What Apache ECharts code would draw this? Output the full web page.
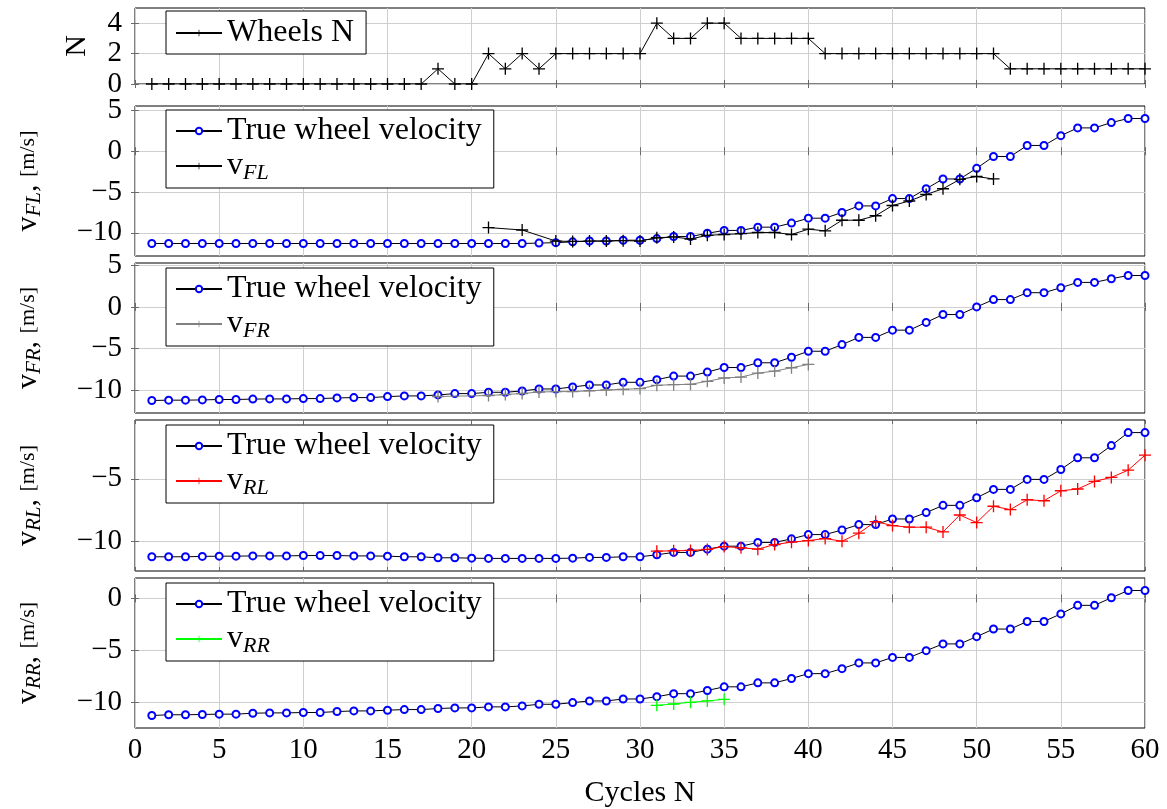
<!DOCTYPE html>
<html><head><meta charset="utf-8">
<script src="https://cdn.jsdelivr.net/npm/echarts@6/dist/echarts.min.js"></script>
<style>html,body{margin:0;padding:0;background:#fff}#c{width:1167px;height:809px}</style>
</head><body><div id="c"></div>
<script>
// ---------------- data ----------------
const cycles = [1,2,3,4,5,6,7,8,9,10,11,12,13,14,15,16,17,18,19,20,21,22,23,24,25,26,27,28,29,30,
  31,32,33,34,35,36,37,38,39,40,41,42,43,44,45,46,47,48,49,50,51,52,53,54,55,56,57,58,59,60];
const xTicks = [0,5,10,15,20,25,30,35,40,45,50,55,60];

const wheelsN = [0,0,0,0,0,0,0,0,0,0,0,0,0,0,0,0,0,1,0,0,
  2,1,2,1,2,2,2,2,2,2, 4,3,3,4,4,3,3,3,3,3,
  2,2,2,2,2,2,2,2,2,2,2, 1,1,1,1,1,1,1,1,1];

const trueFL = [-11.3,-11.3,-11.3,-11.3,-11.3,-11.3,-11.3,-11.3,-11.3,-11.3,
  -11.3,-11.3,-11.3,-11.3,-11.3,-11.3,-11.3,-11.3,-11.3,-11.3,
  -11.3,-11.3,-11.3,-11.25,-11.2,-11.1,-11.0,-11.0,-10.9,-10.9,
  -10.7,-10.45,-10.45,-10.05,-9.7,-9.7,-9.3,-9.3,-8.8,-8.2,
  -8.2,-7.5,-6.7,-6.7,-5.8,-5.8,-4.6,-3.4,-3.4,-2.1,
  -0.65,-0.65,0.7,0.7,1.9,2.85,2.85,3.5,4.0,4.0];
const vFL = [null,null,null,null,null,null,null,null,null,null,
  null,null,null,null,null,null,null,null,null,null,
  -9.35,null,-9.65,null,-11.0,-11.05,-11.0,-11.0,-10.95,-11.0,
  -10.6,-10.5,-10.75,-10.3,-10.2,-10.1,-9.95,-9.95,-10.2,-9.55,
  -9.75,-8.45,-8.45,-7.9,-6.65,-6.1,-5.3,-4.6,-3.45,-3.1,
  -3.4,null,null,null,null,null,null,null,null,null];

const trueFR = [-11.27,-11.23,-11.23,-11.2,-11.15,-11.15,-11.1,-11.08,-11.08,-11.04,
  -11.04,-10.96,-10.92,-10.92,-10.8,-10.72,-10.72,-10.6,-10.44,-10.44,
  -10.28,-10.28,-10.12,-9.88,-9.88,-9.64,-9.4,-9.4,-9.08,-9.08,
  -8.76,-8.33,-8.33,-7.85,-7.3,-7.3,-6.73,-6.73,-6.06,-5.34,
  -5.34,-4.54,-3.67,-3.67,-2.8,-2.8,-1.87,-0.92,-0.92,0.0,
  0.88,0.88,1.71,1.71,2.31,2.95,2.95,3.39,3.78,3.78];
const vFR = [null,null,null,null,null,null,null,null,null,null,
  null,null,null,null,null,null,null,-10.79,null,null,
  -10.67,-10.55,-10.43,-10.25,-10.2,-10.2,-10.1,-10.0,-9.92,-9.84,
  -9.44,-9.36,-9.32,-8.96,-8.56,-8.45,-7.97,-7.73,-7.33,-6.93,
  null,null,null,null,null,null,null,null,null,null,
  null,null,null,null,null,null,null,null,null,null];

const trueRL = [-11.25,-11.25,-11.25,-11.22,-11.2,-11.2,-11.18,-11.18,-11.18,-11.15,
  -11.15,-11.15,-11.18,-11.18,-11.2,-11.25,-11.25,-11.33,-11.33,-11.36,
  -11.38,-11.38,-11.38,-11.38,-11.38,-11.36,-11.3,-11.3,-11.25,-11.25,
  -11.09,-10.9,-10.9,-10.64,-10.4,-10.4,-10.1,-10.1,-9.81,-9.47,
  -9.47,-9.1,-8.67,-8.67,-8.22,-8.22,-7.71,-7.13,-7.13,-6.52,
  -5.85,-5.85,-5.05,-5.05,-4.26,-3.32,-3.32,-2.34,-1.3,-1.3];
const vRL = [null,null,null,null,null,null,null,null,null,null,
  null,null,null,null,null,null,null,null,null,null,
  null,null,null,null,null,null,null,null,null,null,
  -10.8,-10.77,-10.74,-10.66,-10.43,-10.53,-10.64,-10.27,-10.08,-9.95,
  -9.79,-10.0,-9.36,-8.43,-8.75,-8.88,-8.88,-9.26,-7.9,-8.51,
  -7.2,-7.47,-6.68,-6.76,-5.96,-5.82,-5.21,-4.89,-4.31,-3.11];

const trueRR = [-11.27,-11.2,-11.2,-11.17,-11.14,-11.14,-11.05,-11.02,-11.02,-10.98,
  -10.98,-10.89,-10.83,-10.83,-10.76,-10.7,-10.7,-10.6,-10.54,-10.54,
  -10.44,-10.44,-10.35,-10.19,-10.19,-10.03,-9.87,-9.87,-9.68,-9.68,
  -9.46,-9.17,-9.17,-8.86,-8.51,-8.51,-8.13,-8.13,-7.71,-7.24,
  -7.24,-6.76,-6.21,-6.21,-5.68,-5.68,-5.03,-4.38,-4.38,-3.68,
  -2.95,-2.95,-2.22,-2.22,-1.49,-0.67,-0.67,0.06,0.76,0.76];
const vRR = [null,null,null,null,null,null,null,null,null,null,
  null,null,null,null,null,null,null,null,null,null,
  null,null,null,null,null,null,null,null,null,null,
  -10.29,-10.16,-10.0,-9.87,-9.71,null,null,null,null,null,
  null,null,null,null,null,null,null,null,null,null,
  null,null,null,null,null,null,null,null,null,null];

const ticksN = [0,2,4];
const ticksFront = [-10,-5,0,5];
const ticksRL = [-10,-5];
const ticksRR = [-10,-5,0];

// ---------------- layout / style ----------------
const FONT = '"Liberation Serif", "Times New Roman", serif';
const PLUS = 'path://M0,4.45H10V5.55H0Z M4.45,0H5.55V10H4.45Z';
const GRID_LEFT = 135, GRID_W = 1010;

function extentOf(arrs, pad) {
  let lo = Infinity, hi = -Infinity;
  arrs.forEach(a => a.forEach(v => { if (v !== null) { lo = Math.min(lo, v); hi = Math.max(hi, v); } }));
  const r = hi - lo;
  return [lo - pad * r, hi + pad * r];
}

const panels = [
  { top: 8, height: 76, legendTop: 11, ticks: ticksN, lim: [0, 5], sub: null, pad: [6, 12, 5, 9],
    series: [{ name: 'Wheels N', data: wheelsN, sym: 'plus', color: '#000' }] },
  { top: 106, height: 150, legendTop: 110, ticks: ticksFront, sub: 'FL', pad: [5, 12, 4, 9],
    series: [{ name: 'True wheel velocity', data: trueFL, sym: 'circle' },
             { name: 'v_FL', data: vFL, sym: 'plus', color: '#000' }] },
  { top: 263, height: 150, legendTop: 268, ticks: ticksFront, sub: 'FR', pad: [5, 12, 4, 9],
    series: [{ name: 'True wheel velocity', data: trueFR, sym: 'circle' },
             { name: 'v_FR', data: vFR, sym: 'plus', color: '#808080' }] },
  { top: 420, height: 151, legendTop: 425, ticks: ticksRL, sub: 'RL', pad: [5, 12, 4, 9],
    series: [{ name: 'True wheel velocity', data: trueRL, sym: 'circle' },
             { name: 'v_RL', data: vRL, sym: 'plus', color: '#ff0000' }] },
  { top: 578, height: 151, legendTop: 583, ticks: ticksRR, sub: 'RR', pad: [5, 12, 4, 9],
    series: [{ name: 'True wheel velocity', data: trueRR, sym: 'circle' },
             { name: 'v_RR', data: vRR, sym: 'plus', color: '#00ff00' }] }
];

const fmtNum = v => (v < 0 ? '\u2212' + Math.abs(v) : String(v));
const gridColor = '#cfcfcf';
const tickColor = '#6a6a6a';

const grid = [], xAxis = [], yAxis = [], series = [], legend = [];

panels.forEach((p, i) => {
  const lim = p.lim || extentOf(p.series.map(s => s.data), 0.1);
  const last = i === panels.length - 1;
  grid.push({ left: GRID_LEFT, width: GRID_W, top: p.top, height: p.height,
    show: true, borderColor: '#000', borderWidth: 1, backgroundColor: 'transparent' });

  // bottom x axis
  xAxis.push({ gridIndex: i, type: 'value', min: 0, max: 60, interval: 5, position: 'bottom',
    axisLine: { show: false },
    axisTick: { show: true, inside: true, length: 4, lineStyle: { color: tickColor } },
    splitLine: { show: true, lineStyle: { color: gridColor, width: 1 } },
    axisLabel: { show: last, fontFamily: FONT, fontSize: 29, color: '#000', margin: 8,
      customValues: xTicks },
    name: last ? 'Cycles N' : '', nameLocation: 'middle', nameGap: 50,
    nameTextStyle: { fontFamily: FONT, fontSize: 30, color: '#000' } });
  // top x axis (ticks only)
  xAxis.push({ gridIndex: i, type: 'value', min: 0, max: 60, interval: 5, position: 'top',
    axisLine: { show: false },
    axisTick: { show: true, inside: true, length: 4, lineStyle: { color: tickColor } },
    splitLine: { show: false }, axisLabel: { show: false } });

  const yName = p.sub ? '{v|v}{s|' + p.sub + '}{v|, }{u|[m/s]}' : 'N';
  yAxis.push({ gridIndex: i, type: 'value', min: lim[0], max: lim[1], position: 'left',
    axisLine: { show: false },
    axisTick: { show: true, inside: true, length: 4, lineStyle: { color: tickColor }, customValues: p.ticks },
    splitLine: { show: true, lineStyle: { color: gridColor, width: 1 } },
    axisLabel: { fontFamily: FONT, fontSize: 29, color: '#000', margin: 13, customValues: p.ticks,
      formatter: fmtNum },
    name: yName, nameLocation: 'middle', nameRotate: 90, nameGap: p.sub ? 90 : 43,
    nameTextStyle: { fontFamily: FONT, fontSize: 30, color: '#000',
      rich: { v: { fontFamily: FONT, fontSize: 30, color: '#000' },
              s: { fontFamily: FONT, fontSize: 21, fontStyle: 'italic', color: '#000', padding: [12, 0, 0, 0] },
              u: { fontFamily: FONT, fontSize: 22, color: '#000' } } } });
  yAxis.push({ gridIndex: i, type: 'value', min: lim[0], max: lim[1], position: 'right',
    axisLine: { show: false },
    axisTick: { show: true, inside: true, length: 4, lineStyle: { color: tickColor }, customValues: p.ticks },
    splitLine: { show: false }, axisLabel: { show: false } });

  p.series.forEach(s => {
    const pts = cycles.map((c, k) => [c, s.data[k]]).filter(d => d[1] !== null);
    const isCircle = s.sym === 'circle';
    series.push({
      type: 'line', name: s.name, xAxisIndex: 2 * i, yAxisIndex: 2 * i, data: pts,
      symbol: isCircle ? 'emptyCircle' : PLUS,
      symbolSize: isCircle ? 7 : 12,
      showSymbol: true, showAllSymbol: true,
      lineStyle: { color: isCircle ? '#000' : s.color, width: 1 },
      itemStyle: isCircle ? { color: '#0000ff', borderColor: '#0000ff', borderWidth: 1 }
                          : { color: s.color, borderWidth: 0 },
      emphasis: { disabled: true }, z: isCircle ? 2 : 3
    });
  });

  legend.push({
    data: p.series.map(s => s.name), left: 166, top: p.legendTop, orient: 'vertical',
    backgroundColor: '#fff', borderColor: '#000', borderWidth: 1, borderRadius: 0,
    padding: p.pad, itemGap: 3, itemWidth: 46, itemHeight: 8, selectedMode: false,
    formatter: name => name.indexOf('v_') === 0 ? '{t|v}{s|' + name.slice(2) + '}' : '{t|' + name + '}',
    textStyle: { fontFamily: FONT, fontSize: 32, color: '#000',
      rich: { t: { fontFamily: FONT, fontSize: 32, color: '#000' },
              s: { fontFamily: FONT, fontSize: 22, fontStyle: 'italic', color: '#000', padding: [14, 0, 0, 0] } } },
    z: 10
  });
});

const chart = echarts.init(document.getElementById('c'), null, { renderer: 'canvas' });
chart.setOption({ animation: false, backgroundColor: '#fff', grid, xAxis, yAxis, series, legend });
</script></body></html>
